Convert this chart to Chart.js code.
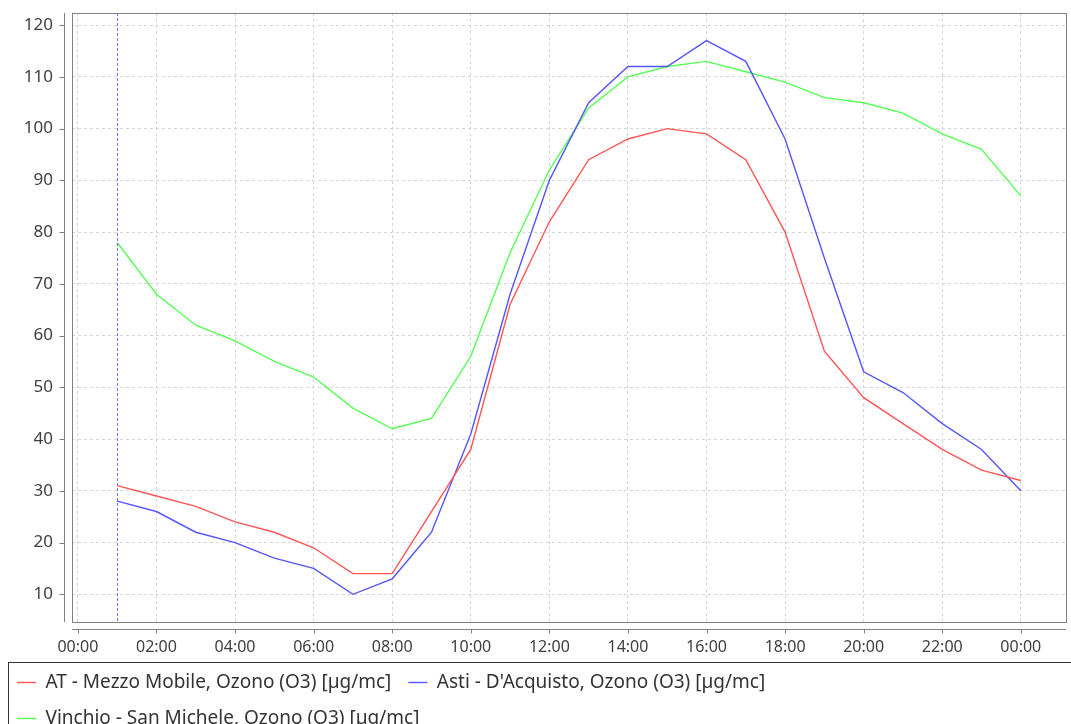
<!DOCTYPE html>
<html>
<head>
<meta charset="utf-8">
<script src="https://cdn.jsdelivr.net/npm/chart.js@4.4.1/dist/chart.umd.min.js"></script>
<style>
  html, body { margin: 0; padding: 0; background: #fff; overflow: hidden; }
</style>
</head>
<body>
<canvas id="ozoneChart" width="1071" height="738"></canvas>
<script>
// Dati orari (ore 01:00 ... 24:00)
const hours = [1, 2, 3, 4, 5, 6, 7, 8, 9, 10, 11, 12, 13, 14, 15, 16, 17, 18, 19, 20, 21, 22, 23, 24];
const atMezzoMobile = [31, 29, 27, 24, 22, 19, 14, 14, 26, 38, 66, 82, 94, 98, 100, 99, 94, 80, 57, 48, 43, 38, 34, 32];
const astiDAcquisto = [28, 26, 22, 20, 17, 15, 10, 13, 22, 41, 68, 90, 105, 112, 112, 117, 113, 98, 75, 53, 49, 43, 38, 30];
const vinchioSanMichele = [78, 68, 62, 59, 55, 52, 46, 42, 44, 56, 76, 92, 104, 110, 112, 113, 111, 109, 106, 105, 103, 99, 96, 87];
const seriesNames = [
  "AT - Mezzo Mobile, Ozono (O3) [µg/mc]",
  "Asti - D'Acquisto, Ozono (O3) [µg/mc]",
  "Vinchio - San Michele, Ozono (O3) [µg/mc]"
];
const seriesColors = ["#ff5555", "#5555ff", "#55ff55"];
const crosshairHour = 1;

// margini automatici (5%) come nel grafico originale
const allValues = atMezzoMobile.concat(astiDAcquisto, vinchioSanMichele);
const yLo = Math.min(...allValues), yHi = Math.max(...allValues);
const xLo = Math.min(...hours), xHi = Math.max(...hours);
const yPad = (yHi - yLo) * 0.05, xPad = (xHi - xLo) * 0.05;

function toPoints(values) {
  return hours.map((h, i) => ({ x: h, y: values[i] }));
}

function hourLabel(v) {
  const h = ((v % 24) + 24) % 24;
  return String(h).padStart(2, "0") + ":00";
}

// contorno del grafico, assi spostati e mirino verticale
const frame = {
  id: "frame",
  afterDatasetsDraw(chart) {
    const { ctx, chartArea: a, scales } = chart;
    const x = Math.round(scales.x.getPixelForValue(crosshairHour)) + 0.5;
    ctx.save();
    ctx.strokeStyle = "#6f6fff";
    ctx.lineWidth = 1;
    ctx.setLineDash([3, 2]);
    ctx.beginPath();
    ctx.moveTo(x, a.top);
    ctx.lineTo(x, a.bottom);
    ctx.stroke();
    ctx.restore();
  },
  afterDraw(chart) {
    const { ctx, chartArea: a, scales } = chart;
    ctx.save();
    ctx.strokeStyle = "#808080";
    ctx.lineWidth = 1;
    ctx.strokeRect(Math.round(a.left) + 0.5, Math.round(a.top) + 0.5,
      Math.round(a.right - a.left), Math.round(a.bottom - a.top));

    // asse Y
    const yx = Math.round(a.left) - 7.5;
    ctx.beginPath();
    ctx.moveTo(yx, a.top);
    ctx.lineTo(yx, a.bottom);
    scales.y.ticks.forEach(t => {
      const py = Math.round(scales.y.getPixelForValue(t.value)) + 0.5;
      ctx.moveTo(yx, py);
      ctx.lineTo(yx - 5, py);
    });
    // asse X
    const xy = Math.round(a.bottom) + 7.5;
    ctx.moveTo(a.left, xy);
    ctx.lineTo(a.right, xy);
    scales.x.ticks.forEach(t => {
      const px = Math.round(scales.x.getPixelForValue(t.value)) + 0.5;
      ctx.moveTo(px, xy);
      ctx.lineTo(px, xy + 4);
    });
    ctx.stroke();

    // riquadro della legenda
    const lg = chart.legend;
    ctx.strokeStyle = "#333";
    ctx.strokeRect(8.5, Math.round(lg.top) + 6.5, chart.width + 10, chart.height);
    ctx.restore();
  }
};

new Chart(document.getElementById("ozoneChart"), {
  type: "line",
  data: {
    datasets: [atMezzoMobile, astiDAcquisto, vinchioSanMichele].map((vals, i) => ({
      label: seriesNames[i],
      data: toPoints(vals),
      borderColor: seriesColors[i],
      backgroundColor: seriesColors[i],
      borderWidth: 1.4,
      pointRadius: 0,
      tension: 0,
      fill: false
    }))
  },
  options: {
    responsive: false,
    animation: false,
    devicePixelRatio: 1,
    layout: { padding: { left: 0, right: 5, top: 13, bottom: 0 } },
    plugins: {
      tooltip: { enabled: false },
      legend: {
        position: "bottom",
        align: "start",
        labels: {
          usePointStyle: true,
          pointStyle: "line",
          pointStyleWidth: 19,
          color: "#333",
          padding: 17,
          font: { family: "Noto Sans", size: 19 }
        }
      }
    },
    scales: {
      x: {
        type: "linear",
        min: xLo - xPad,
        max: xHi + xPad,
        afterFit(scale) { scale.height = 34; },
        ticks: {
          stepSize: 2,
          includeBounds: false,
          padding: 0,
          maxRotation: 0,
          autoSkip: false,
          color: "#404040",
          font: { family: "Noto Sans", size: 16 },
          callback: v => hourLabel(v)
        },
        grid: { color: "#d6d6d6", drawTicks: true, tickLength: 16, tickColor: "rgba(0,0,0,0)" },
        border: { display: false, dash: [3, 3] }
      },
      y: {
        min: yLo - yPad,
        max: yHi + yPad,
        afterFit(scale) { scale.width = 72; },
        ticks: {
          stepSize: 10,
          includeBounds: false,
          padding: 0,
          color: "#404040",
          font: { family: "Noto Sans", size: 17 }
        },
        grid: { color: "#d6d6d6", drawTicks: true, tickLength: 19, tickColor: "rgba(0,0,0,0)" },
        border: { display: false, dash: [3, 3] }
      }
    }
  },
  plugins: [frame]
});
</script>
</body>
</html>
